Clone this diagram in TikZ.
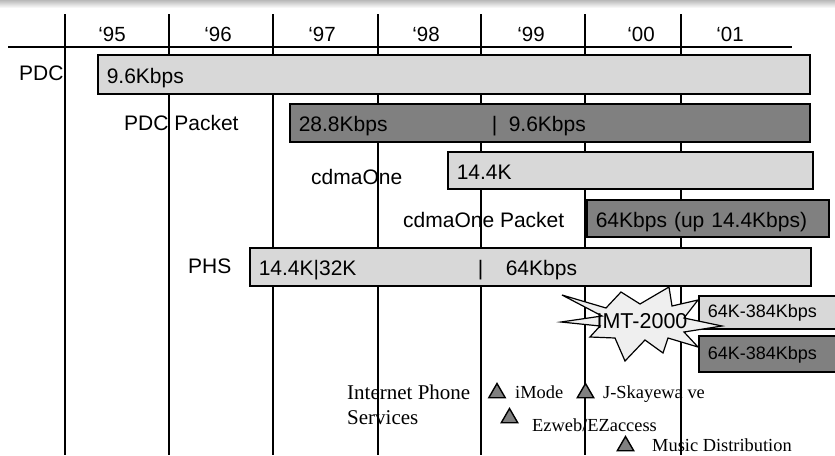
\documentclass[tikz,border=0pt]{standalone}
\usepackage{fontspec}
\usepackage{xcolor}
\usepackage{tikz}
\usetikzlibrary{shapes.geometric, positioning}
\newfontfamily\arialfont{Liberation Sans}
\newfontfamily\timesfont{Liberation Serif}
\definecolor{barlight}{HTML}{D8D8D8}
\definecolor{bardark}{HTML}{808080}
\definecolor{burstfill}{HTML}{EFEFEF}

\begin{document}
\begin{tikzpicture}[
    x=1pt, y=-1pt,
    grid/.style={line width=1.6pt, black},
    year/.style={anchor=base, inner sep=0pt, font=\arialfont\fontsize{20.5}{24}\selectfont},
    lbl/.style={anchor=base west, inner sep=0pt, font=\arialfont\fontsize{21}{24}\selectfont},
    bar/.style={draw, line width=1.6pt, anchor=north west, inner xsep=9pt, inner ysep=0pt, text height=18pt, text depth=0pt, align=left, font=\arialfont\fontsize{21}{24}\selectfont},
    lbar/.style={bar, fill=barlight},
    dbar/.style={bar, fill=bardark},
    imtbar/.style={text height=11pt, font=\arialfont\fontsize{18}{22}\selectfont},
    burst/.style={draw, line width=1.2pt, fill=burstfill, line join=miter},
    tri/.style={regular polygon, regular polygon sides=3, draw, line width=1.4pt, fill=bardark, minimum size=19pt, inner sep=0pt},
    svc/.style={anchor=base west, inner sep=0pt, font=\timesfont\fontsize{18.4}{22}\selectfont},
]
    \useasboundingbox (0,0) rectangle (835,455);

    % scanned band along the top edge
    \shade[top color=gray!55, bottom color=white] (0,0) rectangle (835,8);

    % year grid
    \foreach \gx in {65,169,273,378,481,585,681}
        \draw[grid] (\gx,14) -- (\gx,455);
    \draw[grid] (8,47) -- (792,47);

    % year labels
    \node[year] (y95) at (112,41) {‘95};
    \node[year] (y96) at (218,41) {‘96};
    \node[year] (y97) at (322,41) {‘97};
    \node[year] (y98) at (426,41) {‘98};
    \node[year] (y99) at (531,41) {‘99};
    \node[year] (y00) at (641,41) {‘00};
    \node[year] (y01) at (730,41) {‘01};

    % PDC
    \node[lbl] (pdc) at (19,80) {PDC};
    \node[lbar, minimum height=39pt, text width=694pt] (pdcbar) at (97,54) {9.6Kbps};

    % PDC Packet
    \node[lbl] (pdcp) at (124,130) {PDC Packet};
    \node[dbar, minimum height=38pt, text width=502pt] (pdcpbar) at (289,103)
        {\makebox[193pt][l]{28.8Kbps}\makebox[17pt][l]{|}9.6Kbps};

    % cdmaOne
    \node[lbl] (cdma) at (311,184) {cdmaOne};
    \node[lbar, minimum height=37pt, text width=347pt] (cdmabar) at (447,151) {14.4K};

    % cdmaOne Packet
    \node[lbl] (cdmap) at (403,227) {cdmaOne Packet};
    \node[dbar, minimum height=37pt, text width=224pt] (cdmapbar) at (586,199) {64Kbps (up 14.4Kbps)};

    % PHS
    \node[lbl] (phs) at (188,273) {PHS};
    \node[lbar, minimum height=38pt, text width=543pt] (phsbar) at (249,247)
        {\makebox[219pt][l]{14.4K|32K}\makebox[28pt][l]{|}64Kbps};

    % IMT-2000
    \node[lbar, imtbar, minimum height=33pt, text width=132pt] (imtlbar) at (698,295) {64K-384Kbps};
    \node[dbar, imtbar, minimum height=36pt, text width=132pt] (imtdbar) at (698,335) {64K-384Kbps};
    \draw[burst] (562,295) -- (606,308) -- (621,292) -- (640,304) -- (669,287) -- (672,306)
        -- (698,300) -- (684,318) -- (722,326) -- (684,332) -- (698,347) -- (668,338)
        -- (663,353) -- (645,340) -- (625,361) -- (615,338) -- (590,337) -- (600,326)
        -- (561,322) -- (602,316) -- cycle;
    \node[lbl, anchor=base, font=\arialfont\fontsize{21.5}{24}\selectfont] (imt) at (642,328) {IMT-2000};

    % Internet phone services
    \node[svc, font=\timesfont\fontsize{21}{25}\selectfont] (inet) at (347,399) {Internet Phone};
    \node[svc, font=\timesfont\fontsize{21}{25}\selectfont] (srv) at (347,424) {Services};
    \node[tri] (imodetri) at (497,393) {};
    \node[svc] (imode) at (515,398) {iMode};
    \node[tri] (jskytri) at (585.5,393) {};
    \node[svc] (jsky) at (603,398) {J-Skayewa ve};
    \node[tri] (ezwebtri) at (509.5,418) {};
    \node[svc] (ezweb) at (532,431) {Ezweb/EZaccess};
    \node[tri] (musictri) at (625.5,446) {};
    \node[svc] (music) at (652,451) {Music Distribution};
\end{tikzpicture}
\end{document}
